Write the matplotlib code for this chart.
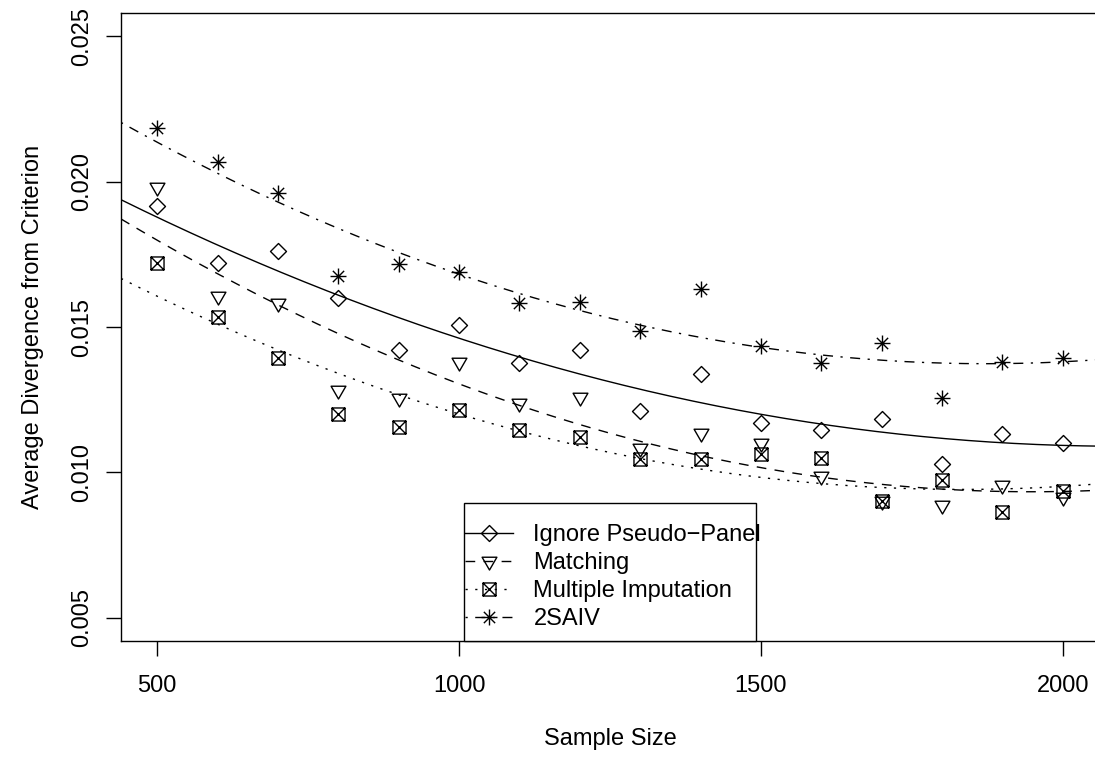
import numpy as np
import matplotlib.pyplot as plt
from matplotlib.path import Path
from matplotlib.lines import Line2D
from matplotlib.patches import Rectangle

plt.rcParams['font.family'] = ['Liberation Sans', 'DejaVu Sans']

# Data
sample_sizes = [500, 600, 700, 800, 900, 1000, 1100, 1200,
                1300, 1400, 1500, 1600, 1700, 1800, 1900, 2000]
ignore = [0.01915, 0.01720, 0.01760, 0.01600, 0.01420, 0.01508, 0.01376, 0.01422,
          0.01210, 0.01338, 0.01170, 0.01146, 0.01184, 0.01030, 0.01131, 0.01101]
matching = [0.01980, 0.01605, 0.01582, 0.01282, 0.01255, 0.01381, 0.01238, 0.01258,
            0.01084, 0.01137, 0.01101, 0.00986, 0.00902, 0.00889, 0.00957, 0.00917]
multiple_imp = [0.01720, 0.01534, 0.01393, 0.01201, 0.01155, 0.01216, 0.01145, 0.01121,
                0.01046, 0.01046, 0.01064, 0.01048, 0.00901, 0.00975, 0.00863, 0.00937]
saiv = [0.02184, 0.02067, 0.01960, 0.01675, 0.01717, 0.01689, 0.01583, 0.01586,
        0.01487, 0.01632, 0.01434, 0.01376, 0.01445, 0.01256, 0.01379, 0.01393]

labels = ["Ignore Pseudo\u2212Panel", "Matching", "Multiple Imputation", "2SAIV"]

# R-like plotting symbols (pch 5, 6, 7, 8)
diamond = Path([(0, 1), (1, 0), (0, -1), (-1, 0), (0, 1)],
               [Path.MOVETO, Path.LINETO, Path.LINETO, Path.LINETO, Path.CLOSEPOLY])
tri_down = Path([(0, -1.555), (1.347, 0.778), (-1.347, 0.778), (0, -1.555)],
                [Path.MOVETO, Path.LINETO, Path.LINETO, Path.CLOSEPOLY])
sq_x = Path([(-1, -1), (1, -1), (1, 1), (-1, 1), (-1, -1),
             (-1, -1), (1, 1), (-1, 1), (1, -1)],
            [Path.MOVETO, Path.LINETO, Path.LINETO, Path.LINETO, Path.CLOSEPOLY,
             Path.MOVETO, Path.LINETO, Path.MOVETO, Path.LINETO])
d = 0.7071
star = Path([(0, -1), (0, 1), (-1, 0), (1, 0), (-d, -d), (d, d), (-d, d), (d, -d)],
            [Path.MOVETO, Path.LINETO] * 4)

series = [ignore, matching, multiple_imp, saiv]
markers = [diamond, tri_down, sq_x, star]
msizes = [11.5, 12.3, 9.4, 11.5]
dashes = [None, (7, 6), (1.6, 5.4), (1.6, 5.4, 7.2, 5.4)]

fig = plt.figure(figsize=(10.95, 7.57), dpi=100)
ax = fig.add_axes([121 / 1095, 1 - 641 / 757, 978 / 1095, 628 / 757])

xfit = np.linspace(440, 2060, 300)
handles = []
for y, mk, ms, ds in zip(series, markers, msizes, dashes):
    ax.plot(sample_sizes, y, linestyle='none', marker=mk, markersize=ms,
            markerfacecolor='none', markeredgecolor='black', markeredgewidth=1.0)
    # quadratic trend line
    coef = np.polyfit(sample_sizes, y, 2)
    line, = ax.plot(xfit, np.polyval(coef, xfit), color='black', linewidth=1.0)
    if ds is not None:
        line.set_dashes(ds)
    h = Line2D([], [], color='black', linewidth=1.0, marker=mk, markersize=ms,
               markerfacecolor='none', markeredgecolor='black', markeredgewidth=1.0)
    if ds is not None:
        h.set_dashes(ds)
    handles.append(h)

ax.set_xlim(440, 2060)
ax.set_ylim(0.0042, 0.0258)
ax.set_xticks([500, 1000, 1500, 2000])
ax.set_yticks([0.005, 0.010, 0.015, 0.020, 0.025])
ax.set_yticklabels(["0.005", "0.010", "0.015", "0.020", "0.025"])
ax.tick_params(axis='both', direction='out', length=10.8, width=1.0,
               labelsize=17, color='black')
ax.tick_params(axis='x', pad=14)
ax.tick_params(axis='y', pad=9, labelrotation=90)
plt.setp(ax.get_yticklabels(), va='center')
for s in ax.spines.values():
    s.set_linewidth(1.0)

ax.set_xlabel("Sample Size", fontsize=17, labelpad=22)
ax.set_ylabel("Average Divergence from Criterion", fontsize=17, labelpad=20)

# legend box like R's legend("bottom", ...)
frame = Rectangle((464 / 1095, 1 - 641 / 757), 292 / 1095, 138 / 757,
                  transform=fig.transFigure, facecolor='white',
                  edgecolor='black', linewidth=1.0, zorder=5, clip_on=False)
ax.add_patch(frame)
leg = ax.legend(handles, labels, loc='upper left', fontsize=17,
                bbox_to_anchor=(465 / 1095, 1 - 524 / 757),
                bbox_transform=fig.transFigure, frameon=False,
                borderaxespad=0, borderpad=0, handlelength=2.05,
                handletextpad=0.85, labelspacing=0.26)
leg.set_zorder(6)

fig.savefig("out.png", dpi=100)
